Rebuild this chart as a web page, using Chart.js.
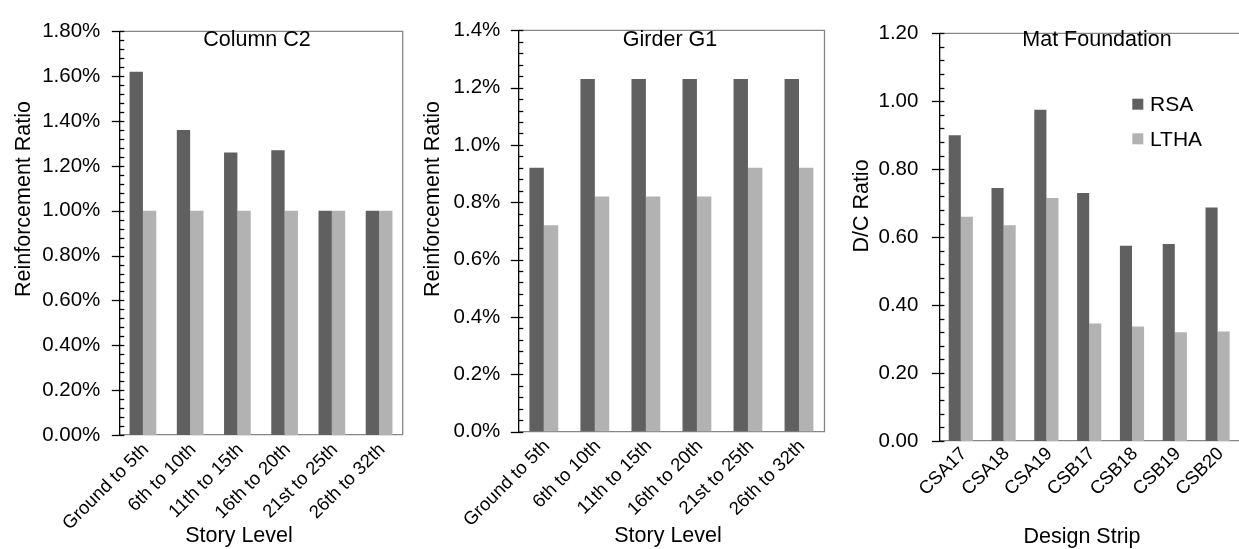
<!DOCTYPE html>
<html><head><meta charset="utf-8">
<script src="https://cdn.jsdelivr.net/npm/chart.js@4.4.1/dist/chart.umd.min.js"></script>
<style>
html,body{margin:0;padding:0;background:#fff;overflow:hidden}
#wrap{position:relative;width:1239px;height:549px;background:#fff}
canvas{position:absolute;top:0}
</style></head><body>
<div id="wrap">
<canvas id="c1" width="410" height="549" style="left:0px"></canvas>
<canvas id="c2" width="420" height="549" style="left:410px"></canvas>
<canvas id="c3" width="409" height="549" style="left:830px"></canvas>
</div>
<script>
// ---------- data ----------
const seriesNames = ['RSA', 'LTHA'];
const storyLevels = ['Ground to 5th', '6th to 10th', '11th to 15th', '16th to 20th', '21st to 25th', '26th to 32th'];
const columnRSA  = [1.62, 1.36, 1.26, 1.27, 1.00, 1.00];
const columnLTHA = [1.00, 1.00, 1.00, 1.00, 1.00, 1.00];
const girderRSA  = [0.92, 1.23, 1.23, 1.23, 1.23, 1.23];
const girderLTHA = [0.72, 0.82, 0.82, 0.82, 0.92, 0.92];
const designStrips = ['CSA17', 'CSA18', 'CSA19', 'CSB17', 'CSB18', 'CSB19', 'CSB20'];
const matRSA  = [0.90, 0.745, 0.975, 0.73, 0.575, 0.58, 0.687];
const matLTHA = [0.66, 0.635, 0.715, 0.346, 0.337, 0.32, 0.322];
const chartTitles = ['Column C2', 'Girder G1', 'Mat Foundation'];
const yTitles = ['Reinforcement Ratio', 'Reinforcement Ratio', 'D/C Ratio'];
const xTitles = ['Story Level', 'Story Level', 'Design Strip'];
const yMax = [1.8, 1.4, 1.2];
const yDecimals = [2, 1, 2];
const ySuffix = ['%', '%', ''];

// ---------- style ----------
const FONT = '"Liberation Sans", Arial, Helvetica, sans-serif';
const DARK = '#606060', LIGHT = '#b2b2b2';

const decor = {
  id: 'decor',
  afterDraw(chart, args, o) {
    const ctx = chart.ctx, a = chart.chartArea, ys = chart.scales.y;
    ctx.save();
    // frame
    ctx.strokeStyle = '#868686'; ctx.lineWidth = 1.3;
    ctx.beginPath();
    ctx.moveTo(a.left, a.top); ctx.lineTo(a.right, a.top);
    if (o.rightBorder) ctx.lineTo(a.right, a.bottom);
    ctx.stroke();
    // y ticks (major crossing, minor inside)
    ctx.strokeStyle = '#000'; ctx.lineWidth = 1.3;
    const n = Math.round(ys.max / o.minor), per = Math.round(o.major / o.minor);
    for (let i = 0; i <= n; i++) {
      const py = Math.round(ys.getPixelForValue(i * o.minor)) + 0.5;
      const major = i % per === 0;
      ctx.beginPath();
      ctx.moveTo(a.left - (major ? 7.5 : 0), py);
      ctx.lineTo(a.left + 5, py);
      ctx.stroke();
    }
    // texts
    ctx.fillStyle = '#000';
    for (const t of o.texts) {
      ctx.save();
      ctx.font = t.size + 'px ' + FONT;
      ctx.translate(t.x - o.offset, t.y);
      if (t.rot) ctx.rotate(t.rot);
      ctx.textAlign = 'center';
      ctx.textBaseline = t.baseline || 'alphabetic';
      ctx.fillText(t.text, 0, 0);
      ctx.restore();
    }
    // legend
    if (o.legend) {
      const L = o.legend;
      chart.data.datasets.forEach((ds, i) => {
        ctx.fillStyle = ds.backgroundColor;
        ctx.fillRect(L.x - o.offset, L.boxY[i], L.box, L.box);
        ctx.fillStyle = '#000';
        ctx.font = L.size + 'px ' + FONT;
        ctx.textAlign = 'left'; ctx.textBaseline = 'alphabetic';
        ctx.fillText(ds.label, L.textX - o.offset, L.baseY[i]);
      });
    }
    ctx.restore();
  }
};

function makeChart(id, idx, labels, rsa, ltha, geo) {
  return new Chart(document.getElementById(id), {
    type: 'bar',
    data: {
      labels: labels,
      datasets: [
        { label: seriesNames[0], data: rsa, backgroundColor: DARK, borderWidth: 0 },
        { label: seriesNames[1], data: ltha, backgroundColor: LIGHT, borderWidth: 0 }
      ]
    },
    options: {
      responsive: false, animation: false, devicePixelRatio: 1,
      layout: { padding: { left: 0, right: geo.padRight, top: geo.top, bottom: 0 } },
      datasets: { bar: { categoryPercentage: 0.565, barPercentage: 1.0 } },
      plugins: {
        legend: { display: false }, tooltip: { enabled: false }, title: { display: false },
        decor: {
          offset: geo.offset, rightBorder: geo.rightBorder, minor: 0.04, major: 0.2,
          texts: [
            { text: chartTitles[idx], x: geo.titleX, y: 46, size: 21.5 },
            { text: xTitles[idx], x: geo.xTitleX, y: geo.xTitleY, size: 21.5 },
            { text: yTitles[idx], x: geo.yTitleX, y: geo.yTitleY, size: 21.5, rot: -Math.PI / 2, baseline: 'middle' }
          ],
          legend: geo.legend
        }
      },
      scales: {
        x: {
          grid: { display: false, drawTicks: false },
          border: { display: true, color: '#868686', width: 1.3 },
          ticks: { color: '#000', font: { family: FONT, size: 18.5 }, minRotation: 45, maxRotation: 45, autoSkip: false, padding: geo.xPad, labelOffset: 3 },
          afterFit: s => { s.height = geo.xHeight; }
        },
        y: {
          min: 0, max: yMax[idx],
          grid: { display: false, drawTicks: false },
          border: { display: true, color: '#000', width: 1.3 },
          ticks: {
            stepSize: 0.2, color: '#000', font: { family: FONT, size: 20.5 }, padding: geo.tickPad, autoSkip: false,
            callback: v => Number(v).toFixed(yDecimals[idx]) + ySuffix[idx]
          },
          afterFit: s => { s.width = geo.yWidth; }
        }
      }
    },
    plugins: [decor]
  });
}

makeChart('c1', 0, storyLevels, columnRSA, columnLTHA, {
  offset: 0, top: 17.7, padRight: 7.3, yWidth: 119.3, xHeight: 114, tickPad: 19, xPad: 4, rightBorder: true,
  titleX: 257, xTitleX: 239, xTitleY: 541.5, yTitleX: 24, yTitleY: 199
});
makeChart('c2', 1, storyLevels, girderRSA, girderLTHA, {
  offset: 410, top: 17.7, padRight: 5.5, yWidth: 108.3, xHeight: 117.5, tickPad: 18, xPad: 4, rightBorder: true,
  titleX: 670, xTitleX: 668, xTitleY: 541.5, yTitleX: 433, yTitleY: 199
});
makeChart('c3', 2, designStrips, matRSA, matLTHA, {
  offset: 830, top: 15, padRight: 0, yWidth: 109.4, xHeight: 108, tickPad: 21, xPad: 2, rightBorder: false,
  titleX: 1097, xTitleX: 1082, xTitleY: 542.5, yTitleX: 862.5, yTitleY: 206,
  legend: { x: 1132.3, box: 11, boxY: [98.7, 133.3], textX: 1150, baseY: [111, 145.5], size: 21 }
});
</script>
</body></html>
